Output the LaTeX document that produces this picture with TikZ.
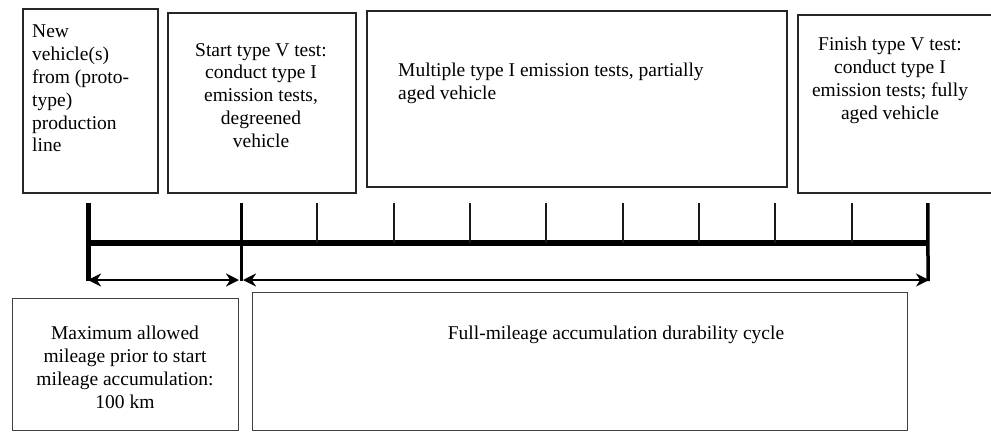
\documentclass[tikz,border=0pt]{standalone}
\usepackage{fontspec}
\setmainfont{Liberation Serif}
\usetikzlibrary{arrows.meta}
\begin{document}
\begin{tikzpicture}[x=1pt,y=-1pt,
  box/.style={draw=black!85,line width=1.8pt,inner sep=0pt,anchor=north west},
  lowbox/.style={draw=black!75,line width=1.3pt,inner sep=0pt,anchor=north west},
  txt/.style={inner sep=0pt,font=\fontsize{19.5}{22.8}\selectfont,align=center},
  tickline/.style={line width=1.8pt,draw=black!90},
  bar/.style={line width=5.5pt},
  dimarrow/.style={line width=2.2pt,{Stealth[length=13pt,width=13pt]}-{Stealth[length=13pt,width=13pt]}}]
\useasboundingbox (0,0) rectangle (991,432);
% upper boxes
\node[box,minimum width=135pt,minimum height=184pt] (b1) at (22,8) {};
\node[box,minimum width=188pt,minimum height=180pt] (b2) at (167,12) {};
\node[box,minimum width=420pt,minimum height=176pt] (b3) at (366,10) {};
\node[box,minimum width=210pt,minimum height=178pt] (b4) at (797,14) {};
% lower boxes
\node[lowbox,minimum width=226pt,minimum height=132pt] (b5) at (12,298) {};
\node[lowbox,minimum width=655pt,minimum height=138pt] (b6) at (252,292) {};
% texts
\node[txt,align=left,anchor=north west] (t1) at (32,25) {New\\vehicle(s)\\from (proto-\\type)\\production\\line};
\node[txt,anchor=north] (t2) at (261,43) {Start type V test:\\conduct type I\\emission tests,\\degreened\\vehicle};
\node[txt,align=left,anchor=north west] (t3) at (398,63) {Multiple type I emission tests, partially\\aged vehicle};
\node[txt,anchor=north] (t4) at (890,37) {Finish type V test:\\conduct type I\\emission tests; fully\\aged vehicle};
\node[txt,anchor=north] (t5) at (125,326) {Maximum allowed\\mileage prior to start\\mileage accumulation:\\100 km};
\node[txt,anchor=north] (t6) at (616,326) {Full-mileage accumulation durability cycle};
% timeline coordinates
\coordinate (s0) at (88,203);
\coordinate (e0) at (88,281);
\coordinate (m0) at (88,243);
\foreach \k in {0,...,9} {
  \coordinate (s\k k) at ({241+\k*76.33},203);
  \coordinate (m\k k) at ({241+\k*76.33},243);
}
\coordinate (e1) at (241,281);
\coordinate (e2) at (928,281);
% bar and ticks
\draw[bar] (m0) -- (m9k);
\draw[line width=5pt] (s0) -- (e0);
\draw[line width=3pt] (s0k) -- (e1);
\draw[line width=3.5pt] (s9k) -- (e2);
\foreach \k in {1,...,8} { \draw[tickline] (s\k k) -- (m\k k); }
% dimension arrows
\coordinate (a1) at (88,280);
\coordinate (a2) at (239,280);
\coordinate (a3) at (243,280);
\coordinate (a4) at (929,280);
\draw[dimarrow] (a1) -- (a2);
\draw[dimarrow] (a3) -- (a4);
\end{tikzpicture}
\end{document}
